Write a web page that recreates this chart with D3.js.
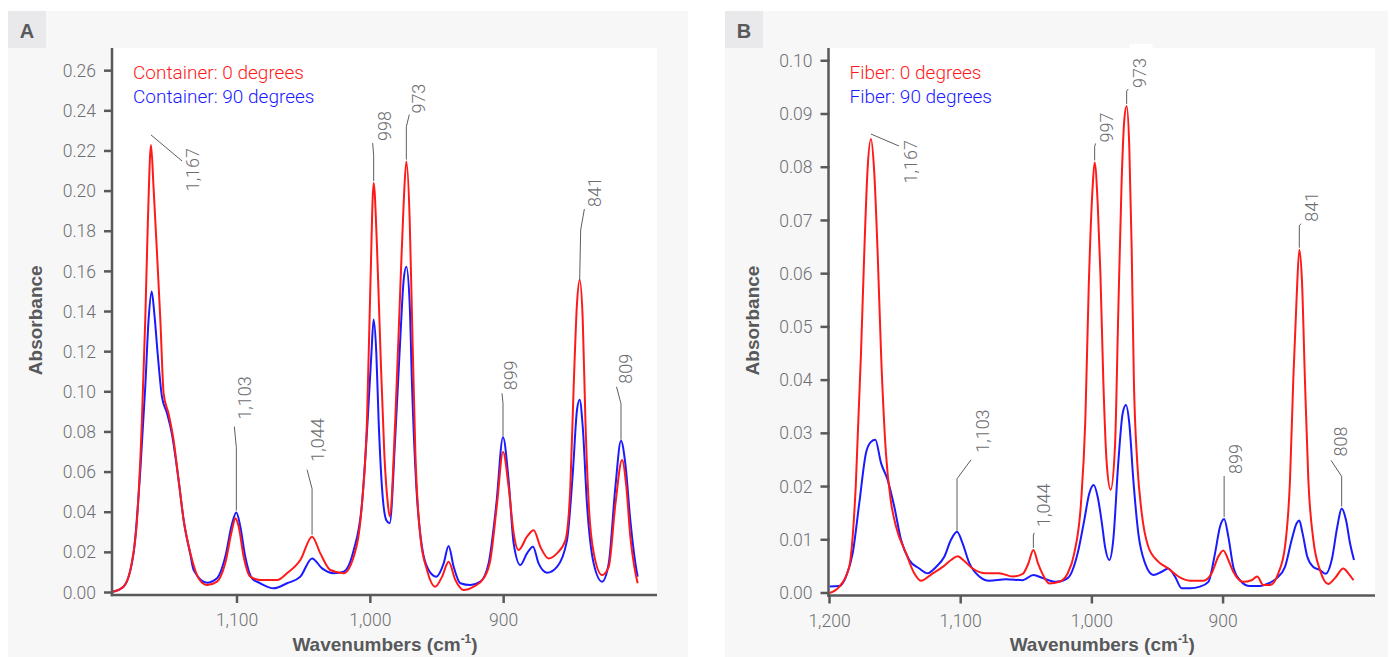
<!DOCTYPE html>
<html><head><meta charset="utf-8">
<script src="https://cdn.jsdelivr.net/npm/d3@7"></script>
<style>
body{margin:0;background:#fff;}
svg{display:block;}
.lt{font-family:Roboto,"Liberation Sans",Arial,sans-serif;font-weight:300;}
.bd{font-family:"Liberation Sans",Arial,sans-serif;font-weight:700;}
</style>
</head><body>
<svg id="chart" width="1394" height="657"></svg>
<script>
// ---------------- DATA ----------------
const xTicksA = [1100, 1000, 900];
const xTicksB = [1200, 1100, 1000, 900];
const yTicksA = [0,0.02,0.04,0.06,0.08,0.10,0.12,0.14,0.16,0.18,0.20,0.22,0.24,0.26];
const yTicksB = [0,0.01,0.02,0.03,0.04,0.05,0.06,0.07,0.08,0.09,0.10];

const legendA = ["Container: 0 degrees", "Container: 90 degrees"];
const legendB = ["Fiber: 0 degrees", "Fiber: 90 degrees"];

// [wavenumber, absorbance]
const container0 = [[1193,0.0004],[1185,0.003],[1179,0.0145],[1175,0.036],[1171.3,0.086],[1168.8,0.136],[1166.8,0.186],[1164.5,0.223],[1162.6,0.202],[1160,0.169],[1157.5,0.136],[1155,0.099],[1151.3,0.089],[1147.6,0.076],[1143.8,0.056],[1140,0.036],[1135,0.0197],[1128.8,0.0071],[1122.5,0.0037],[1115,0.0054],[1108.8,0.0147],[1103.8,0.031],[1101.3,0.037],[1098.8,0.033],[1095,0.0178],[1090,0.0079],[1082.5,0.0062],[1070,0.0062],[1062.5,0.0096],[1052.5,0.0162],[1043.7,0.0278],[1037.5,0.0195],[1030,0.0112],[1020,0.0096],[1012.5,0.0178],[1006.3,0.044],[1002.5,0.086],[1000,0.152],[997.5,0.204],[995,0.172],[992.5,0.122],[989.5,0.069],[987,0.045],[985.5,0.038],[981.3,0.086],[977.5,0.152],[975,0.194],[973,0.2147],[970.5,0.186],[968.7,0.136],[966.2,0.069],[962.5,0.028],[957.5,0.0112],[951.3,0.0029],[946.2,0.0079],[941.3,0.0153],[936.2,0.0062],[930,0.0012],[922.5,0.0029],[915,0.0071],[910,0.0162],[905,0.044],[900.5,0.070],[896.3,0.0527],[892.5,0.0295],[888.8,0.0212],[882.5,0.0278],[877.5,0.031],[872.5,0.0228],[866.3,0.017],[860,0.0195],[853.7,0.026],[850,0.0527],[847.5,0.1025],[845,0.144],[843,0.1557],[840.7,0.136],[838.7,0.086],[836.2,0.044],[832.4,0.0195],[826.2,0.0087],[821.2,0.0128],[816.2,0.044],[811.2,0.066],[808,0.0527],[805,0.0278],[802,0.0128],[799.5,0.0046]];

const container90 = [[1193,0.0004],[1185,0.003],[1177.6,0.0195],[1172.5,0.061],[1168.8,0.1025],[1166.3,0.136],[1164,0.150],[1162,0.139],[1159.5,0.119],[1156.3,0.0976],[1152.5,0.0893],[1148.8,0.079],[1143.8,0.056],[1140,0.036],[1135,0.019],[1132.5,0.0112],[1122.5,0.0049],[1115,0.0071],[1108.8,0.0178],[1103.8,0.034],[1100.5,0.0398],[1097.5,0.0328],[1093.8,0.0178],[1088.8,0.0071],[1082.5,0.0046],[1072.5,0.0021],[1062.5,0.0046],[1052.5,0.0079],[1043.7,0.017],[1036.2,0.012],[1027.5,0.0096],[1020,0.0104],[1012.5,0.021],[1006.3,0.044],[1002,0.086],[999.2,0.119],[997.5,0.136],[995.5,0.119],[993.8,0.086],[991.3,0.0527],[988,0.036],[985.5,0.0345],[981.3,0.0776],[977.5,0.127],[975,0.1557],[973,0.1623],[970.5,0.144],[968.7,0.1025],[965.5,0.0527],[961.3,0.0228],[956.3,0.0112],[950.5,0.0079],[945,0.0145],[941.3,0.0232],[937.5,0.0128],[932.5,0.0046],[925,0.0037],[917.5,0.0054],[911.3,0.0145],[905.5,0.044],[900.5,0.0773],[896.3,0.056],[892.5,0.0245],[887.5,0.0137],[882.5,0.0195],[878,0.0228],[873.8,0.0145],[867.5,0.0099],[860,0.0128],[852.5,0.026],[848,0.061],[845,0.091],[843,0.096],[840.7,0.0826],[837.5,0.044],[832.5,0.0145],[826.2,0.0054],[821.2,0.0145],[816.2,0.0527],[812,0.0756],[808.8,0.0644],[805,0.036],[801.2,0.0145],[799.5,0.0079]];

const fiber0 = [[1200,0],[1192.5,0.0012],[1185,0.0049],[1180,0.020],[1176,0.045],[1173.5,0.0639],[1171,0.0795],[1168.4,0.0853],[1166,0.0795],[1163.3,0.0639],[1160.7,0.045],[1157,0.0263],[1153,0.0169],[1149.3,0.0125],[1141.7,0.0075],[1135.4,0.0037],[1130.3,0.0023],[1121.3,0.0037],[1113.7,0.0049],[1107.4,0.0062],[1102.3,0.0069],[1097.3,0.006],[1090.9,0.0046],[1080.7,0.0037],[1070.6,0.0037],[1060.4,0.0031],[1052.7,0.0036],[1048.5,0.0055],[1044.6,0.0081],[1041,0.0055],[1037.5,0.0035],[1032.5,0.0018],[1024.8,0.0021],[1018.4,0.0037],[1013.4,0.0075],[1008.3,0.0169],[1005,0.0325],[1002.4,0.0576],[999.4,0.0764],[997.9,0.0809],[995.6,0.0733],[993.5,0.060],[991.3,0.040],[988.7,0.0244],[985.7,0.0194],[982.4,0.0275],[979.9,0.0526],[977.3,0.0776],[975.3,0.0889],[973.5,0.0915],[971.5,0.0839],[969.7,0.0651],[968,0.040],[965.4,0.0244],[962,0.015],[957,0.0087],[949.4,0.0059],[941.8,0.0046],[934.1,0.0031],[925.2,0.0023],[915.1,0.0023],[908.7,0.0037],[903.7,0.0068],[899.8,0.008],[896,0.0062],[892.2,0.004],[884.6,0.0021],[878.3,0.0024],[874,0.0031],[869.4,0.0015],[864.3,0.0015],[857.9,0.0037],[852.8,0.0087],[849,0.0212],[846.5,0.040],[843.9,0.0557],[841.9,0.0645],[839.9,0.0588],[837.6,0.040],[835,0.0212],[831.2,0.010],[826.1,0.0043],[819.8,0.0017],[814.7,0.0028],[808.4,0.0046],[804.5,0.0037],[800.6,0.0024]];

const fiber90 = [[1200,0.0012],[1192.5,0.0013],[1187.4,0.0031],[1182.3,0.0075],[1177.3,0.0169],[1172.2,0.0263],[1168.4,0.0284],[1165.1,0.0288],[1160.7,0.0244],[1155.6,0.0212],[1150.6,0.0162],[1145.5,0.010],[1139.2,0.0062],[1131.6,0.0046],[1125.2,0.0037],[1118.8,0.0049],[1112.5,0.0068],[1107.4,0.010],[1102.8,0.0115],[1098.5,0.0093],[1093.4,0.0056],[1085.8,0.0031],[1078.2,0.0023],[1065.5,0.0026],[1052.7,0.0024],[1044.6,0.0034],[1037.5,0.0028],[1027.4,0.0021],[1018.4,0.0028],[1010.8,0.0075],[1005.8,0.0137],[1002,0.0187],[998.6,0.0203],[995.6,0.0181],[992.3,0.0130],[990,0.0087],[986.7,0.0062],[983.7,0.010],[979.9,0.0244],[976.5,0.0338],[974,0.0353],[971.5,0.0319],[968.4,0.0212],[964.6,0.0112],[959.5,0.0056],[953.2,0.0034],[946.8,0.004],[941.8,0.0046],[936.7,0.0031],[931.6,0.0009],[925.2,0.0009],[917.6,0.0012],[911.2,0.0021],[906.1,0.0075],[902.3,0.0125],[899.2,0.0139],[896,0.0106],[892.2,0.0049],[887.1,0.0024],[879.5,0.0013],[871.9,0.0013],[865.5,0.0018],[859.1,0.0028],[852.8,0.0049],[847.7,0.010],[843.9,0.0131],[841.9,0.0136],[839.4,0.0112],[835.8,0.0068],[831.2,0.0049],[826.1,0.0043],[821.8,0.0036],[817.2,0.0062],[812.9,0.0125],[809.6,0.0159],[806.3,0.0137],[803.2,0.0093],[800.2,0.0062]];

// peak annotations: [label, wavenumber, absorbance]
const peaksA = [["1,167",1164.5,0.223],["1,103",1100.5,0.0398],["1,044",1043.7,0.0278],["998",997.5,0.204],["973",973,0.2147],["899",900.5,0.0773],["841",843,0.1557],["809",812,0.0756]];
const peaksB = [["1,167",1168.4,0.0853],["1,103",1102.8,0.0115],["1,044",1044.6,0.0081],["997",997.9,0.0809],["973",973.5,0.0915],["899",899.2,0.0139],["841",841.9,0.0645],["808",809.6,0.0159]];

// ---------------- LAYOUT (pixels) ----------------
const leaderA = {
 "1,167":{p:[[0,-10],[31,16]],t:[48,3],a:"end"},
 "1,103":{p:[[0,-2],[0,-65],[-2,-86]],t:[15,-93]},
 "1,044":{p:[[0,-2],[0,-48],[-5,-67]],t:[11.5,-75]},
 "998":{p:[[0,-2],[0,-28],[-1,-40]],t:[17,-42]},
 "973":{p:[[0,-2],[0,-35],[3,-47]],t:[19,-48]},
 "899":{p:[[0,-1],[0,-34],[-1,-44]],t:[13.5,-47]},
 "841":{p:[[0,0],[1,-50],[4.7,-71]],t:[21,-73]},
 "809":{p:[[0,-1],[0,-37],[-4.5,-54]],t:[10.5,-57]}
};
const leaderB = {
 "1,167":{p:[[0,-5],[28,7]],t:[46,1],a:"end"},
 "1,103":{p:[[0,-1],[0,-53],[14,-72]],t:[32,-79]},
 "1,044":{p:[[0,-2],[0,-15],[1,-17]],t:[17,-23]},
 "997":{p:[[0,-2],[0,-16],[1,-19]],t:[18,-20]},
 "973":{p:[[0,-2],[0,-15],[1.6,-17]],t:[19,-18]},
 "899":{p:[[0,-2],[0,-42],[0,-43]],t:[18,-45]},
 "841":{p:[[0,-2],[0,-24],[1.7,-26]],t:[19,-28]},
 "808":{p:[[0,-2],[0,-32],[-10.6,-48]],t:[5,-52]}
};

const RED = "#ff1a1a", BLUE = "#1a1aff";
const AXIS = "#58595b", TXT = "#6d6e71";

const svg = d3.select("#chart");

function panel(cfg){
  const g = svg.append("g");
  g.append("rect").attr("x",cfg.bx).attr("y",11).attr("width",cfg.bw).attr("height",646).attr("fill","#f7f7f7");
  g.append("rect").attr("x",cfg.bx).attr("y",11).attr("width",38).attr("height",37).attr("fill","#e9e9eb");
  g.append("text").attr("class","bd").attr("x",cfg.bx+19).attr("y",38).attr("text-anchor","middle")
    .attr("font-size",20).attr("fill","#58595b").text(cfg.letter);

  const x = d3.scaleLinear().domain(cfg.xDomain).range([cfg.left, cfg.right]);
  const y = d3.scaleLinear().domain(cfg.yDomain).range([cfg.bottom, 48]);

  const bgLayer = g.append("g");
  g.append("rect").attr("x",cfg.left).attr("y",48).attr("width",cfg.right-cfg.left).attr("height",cfg.bottom-48+2).attr("fill","#fff");

  cfg.legend.forEach((t,i)=>{
    g.append("text").attr("class","lt").attr("x",cfg.left+20).attr("y",79+24*i)
      .attr("font-size",19).attr("fill",i===0?RED:BLUE).text(t);
  });

  const line = d3.line().x(d=>x(d[0])).y(d=>y(d[1])).curve(d3.curveMonotoneX);
  g.append("path").datum(cfg.s90).attr("d",line).attr("fill","none").attr("stroke",BLUE).attr("stroke-width",2).attr("stroke-linejoin","round");
  g.append("path").datum(cfg.s0).attr("d",line).attr("fill","none").attr("stroke",RED).attr("stroke-width",2).attr("stroke-linejoin","round");

  const lp = d3.line();
  cfg.peaks.forEach(([lab,w,v])=>{
    const L = cfg.lead[lab];
    const px = x(w), py = y(v);
    g.append("path").attr("d",lp(L.p.map(q=>[px+q[0],py+q[1]]))).attr("fill","none")
      .attr("stroke","#333").attr("stroke-width",0.8);
    const tx = px+L.t[0], ty = py+L.t[1];
    const t = g.append("text").attr("class","lt").attr("font-size",18).attr("fill",TXT)
      .attr("text-anchor",L.a||"start")
      .attr("transform",`translate(${tx},${ty}) rotate(-90)`).text(lab);
    const len = t.node().getComputedTextLength();
    const top = (L.a==="end") ? ty : ty-len;
    bgLayer.append("rect").attr("x",tx-16).attr("y",top-14).attr("width",23).attr("height",len+16).attr("fill","#fff");
  });

  cfg.yTicks.forEach(v=>{
    g.append("line").attr("x1",cfg.left-9).attr("x2",cfg.left).attr("y1",y(v)).attr("y2",y(v))
      .attr("stroke",AXIS).attr("stroke-width",2.5);
    g.append("text").attr("class","lt").attr("x",cfg.left-17).attr("y",y(v)).attr("dy","0.35em")
      .attr("text-anchor","end").attr("font-size",17.5).attr("fill",TXT).text(d3.format(cfg.yFmt)(v));
  });
  const axY = cfg.bottom+2.5;
  cfg.xTicks.forEach(v=>{
    g.append("line").attr("x1",x(v)).attr("x2",x(v)).attr("y1",axY).attr("y2",axY+8)
      .attr("stroke",AXIS).attr("stroke-width",2.5);
    g.append("text").attr("class","lt").attr("x",x(v)).attr("y",axY+31)
      .attr("text-anchor","middle").attr("font-size",17.5).attr("fill",TXT).text(d3.format(",")(v));
  });
  g.append("line").attr("x1",cfg.left-1).attr("x2",cfg.left-1).attr("y1",48).attr("y2",axY+1.2)
    .attr("stroke",AXIS).attr("stroke-width",2.5);
  g.append("line").attr("x1",cfg.left-2.2).attr("x2",cfg.right).attr("y1",axY).attr("y2",axY)
    .attr("stroke",AXIS).attr("stroke-width",2.5);

  g.append("text").attr("class","bd").attr("transform",`translate(${cfg.bx+34},${(48+cfg.bottom)/2}) rotate(-90)`)
    .attr("text-anchor","middle").attr("font-size",19).attr("fill",AXIS).text("Absorbance");
  const xt = g.append("text").attr("class","bd").attr("x",(cfg.left+cfg.right)/2).attr("y",651)
    .attr("text-anchor","middle").attr("font-size",19).attr("fill",AXIS);
  xt.append("tspan").text("Wavenumbers (cm");
  xt.append("tspan").attr("font-size",12).attr("dy",-8).text("-1");
  xt.append("tspan").attr("dy",8).text(")");
}

panel({letter:"A", bx:8, bw:680, left:113, right:657, bottom:592.5,
  xDomain:[1193,785], yDomain:[0,0.2713], xTicks:xTicksA, yTicks:yTicksA, yFmt:".2f",
  legend:legendA, s0:container0, s90:container90, peaks:peaksA, lead:leaderA});
panel({letter:"B", bx:725, bw:663, left:829.5, right:1375, bottom:593,
  xDomain:[1200,784.2], yDomain:[0,0.1024], xTicks:xTicksB, yTicks:yTicksB, yFmt:".2f",
  legend:legendB, s0:fiber0, s90:fiber90, peaks:peaksB, lead:leaderB});
</script>
</body></html>
